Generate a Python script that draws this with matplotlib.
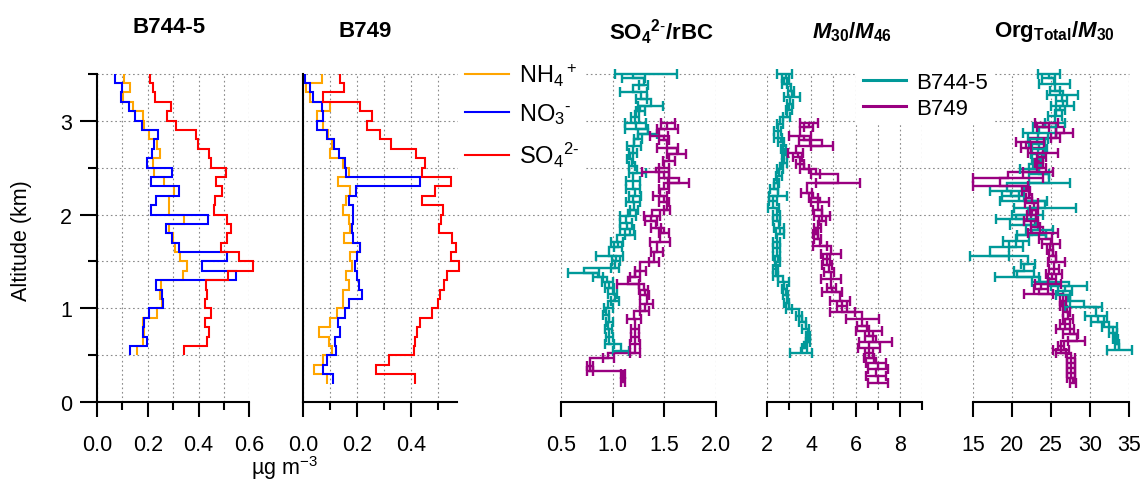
import numpy as np
import matplotlib
matplotlib.use('Agg')
import matplotlib.pyplot as plt
from matplotlib.lines import Line2D

plt.rcParams['font.family'] = ['Liberation Sans', 'DejaVu Sans']
plt.rcParams['mathtext.fontset'] = 'custom'
plt.rcParams['mathtext.rm'] = 'Liberation Sans'
plt.rcParams['mathtext.it'] = 'Liberation Sans:italic:bold'
plt.rcParams['mathtext.bf'] = 'Liberation Sans:bold'
plt.rcParams['mathtext.default'] = 'regular'

# ---------------- data: aerosol species profiles (step bins, km) ----------------
edges_b7445 = [0.5, 0.6, 0.7, 0.8, 0.9, 1.0, 1.1, 1.2, 1.3, 1.4, 1.5, 1.6, 1.7, 1.8,
               1.9, 2.0, 2.1, 2.2, 2.3, 2.4, 2.5, 2.6, 2.7, 2.8, 2.9, 3.0, 3.1, 3.2,
               3.3, 3.4, 3.5]
nh4_b7445 = [0.159, 0.183, 0.186, 0.183, 0.236, 0.255, 0.249, 0.253, 0.338, 0.354,
             0.328, 0.308, 0.299, 0.282, 0.341, 0.282, 0.285, 0.302, 0.262, 0.225,
             0.220, 0.249, 0.236, 0.205, 0.186, 0.183, 0.143, 0.104, 0.130, 0.107]
no3_b7445 = [0.130, 0.196, 0.183, 0.186, 0.203, 0.259, 0.255, 0.233, 0.549, 0.413,
             0.514, 0.325, 0.295, 0.272, 0.439, 0.213, 0.233, 0.325, 0.213, 0.295,
             0.196, 0.216, 0.225, 0.242, 0.176, 0.150, 0.128, 0.093, 0.097, 0.071]
so4_b7445 = [0.341, 0.432, 0.440, 0.425, 0.448, 0.425, 0.432, 0.430, 0.518, 0.613,
             0.558, 0.488, 0.512, 0.528, 0.512, 0.459, 0.466, 0.492, 0.470, 0.509,
             0.449, 0.440, 0.396, 0.390, 0.312, 0.275, 0.292, 0.229, 0.222, 0.210]

edges_b749 = [0.2, 0.3, 0.4, 0.5, 0.6, 0.7, 0.8, 0.9, 1.0, 1.1, 1.2, 1.3, 1.4, 1.5,
              1.6, 1.7, 1.8, 1.9, 2.0, 2.1, 2.2, 2.3, 2.4, 2.5, 2.6, 2.7, 2.8, 2.9,
              3.0, 3.1, 3.2, 3.3, 3.4, 3.5]
nh4_b749 = [0.089, 0.040, 0.072, 0.108, 0.097, 0.060, 0.099, 0.124, 0.149, 0.147,
            0.168, 0.159, 0.180, 0.174, 0.209, 0.152, 0.174, 0.168, 0.149, 0.160,
            0.175, 0.130, 0.168, 0.147, 0.099, 0.106, 0.093, 0.075, 0.052, 0.099,
            0.025, 0.010, 0.068]
no3_b749 = [0.112, 0.075, 0.087, 0.122, 0.118, 0.135, 0.130, 0.155, 0.171, 0.217,
            0.208, 0.198, 0.192, 0.198, 0.211, 0.186, 0.180, 0.184, 0.186, 0.168,
            0.196, 0.435, 0.159, 0.155, 0.134, 0.114, 0.087, 0.052, 0.072, 0.068,
            0.035, 0.025, 0.006]
so4_b749 = [0.414, 0.270, 0.317, 0.410, 0.414, 0.422, 0.435, 0.478, 0.499, 0.507,
            0.522, 0.534, 0.578, 0.547, 0.568, 0.553, 0.503, 0.512, 0.518, 0.441,
            0.491, 0.547, 0.441, 0.453, 0.420, 0.325, 0.286, 0.238, 0.255, 0.209,
            0.072, 0.152, 0.137]

species_labels = [r'NH$_4{}^+$', r'NO$_3{}^{\text{-}}$', r'SO$_4{}^{2\text{-}}$']
flight_labels = ['B744-5', 'B749']

# ---------------- data: ratio profiles (altitude km, value, error) ----------------
# SO4/rBC
r1_alt_a = [3.50, 3.45, 3.38, 3.30, 3.23, 3.16, 3.10, 3.04, 2.98, 2.91, 2.86, 2.80, 2.73,
            2.66, 2.59, 2.52, 2.44, 2.36, 2.27, 2.20, 2.13, 2.05, 1.98, 1.91, 1.85, 1.78,
            1.71, 1.65, 1.56, 1.50, 1.43, 1.38, 1.33, 1.28, 1.22, 1.15, 1.08, 1.00, 0.93,
            0.86, 0.78, 0.70, 0.62, 0.55]
r1_val_a = [1.32, 1.20, 1.30, 1.20, 1.28, 1.37, 1.27, 1.22, 1.22, 1.23, 1.34, 1.25, 1.21,
            1.20, 1.17, 1.19, 1.24, 1.20, 1.20, 1.22, 1.20, 1.21, 1.15, 1.13, 1.14, 1.17,
            1.04, 1.05, 0.97, 1.03, 1.02, 0.72, 0.86, 0.95, 0.97, 1.00, 1.02, 0.96, 0.94,
            0.97, 0.96, 0.97, 0.97, 1.08]
r1_err_a = [0.30, 0.11, 0.04, 0.13, 0.05, 0.12, 0.04, 0.04, 0.10, 0.11, 0.09, 0.04, 0.07,
            0.04, 0.03, 0.03, 0.08, 0.07, 0.07, 0.06, 0.07, 0.04, 0.08, 0.06, 0.07, 0.05,
            0.06, 0.04, 0.13, 0.04, 0.04, 0.15, 0.05, 0.05, 0.04, 0.04, 0.04, 0.04, 0.03,
            0.03, 0.03, 0.03, 0.04, 0.08]
r1_alt_b = [2.98, 2.91, 2.84, 2.79, 2.71, 2.64, 2.57, 2.50, 2.45, 2.39, 2.34, 2.27, 2.20,
            2.13, 2.05, 1.98, 1.93, 1.86, 1.80, 1.71, 1.60, 1.49, 1.40, 1.33, 1.26, 1.20,
            1.14, 1.05, 0.97, 0.89, 0.78, 0.70, 0.62, 0.53, 0.47, 0.39, 0.33, 0.30, 0.22]
r1_val_b = [1.54, 1.53, 1.45, 1.50, 1.53, 1.62, 1.55, 1.50, 1.42, 1.50, 1.64, 1.50, 1.46,
            1.50, 1.53, 1.38, 1.37, 1.42, 1.50, 1.46, 1.43, 1.40, 1.27, 1.22, 1.15, 1.30,
            1.31, 1.33, 1.31, 1.21, 1.22, 1.22, 1.22, 1.22, 0.96, 0.78, 0.78, 1.10, 1.10]
r1_err_b = [0.07, 0.10, 0.09, 0.05, 0.10, 0.09, 0.06, 0.05, 0.13, 0.05, 0.10, 0.05, 0.07,
            0.05, 0.03, 0.08, 0.06, 0.05, 0.05, 0.10, 0.06, 0.05, 0.05, 0.05, 0.11, 0.04,
            0.04, 0.06, 0.04, 0.07, 0.04, 0.04, 0.05, 0.05, 0.05, 0.03, 0.03, 0.02, 0.02]

# M30/M46
r2_alt_a = [3.50, 3.45, 3.39, 3.32, 3.25, 3.18, 3.11, 3.04, 2.96, 2.89, 2.82, 2.77, 2.70,
            2.63, 2.55, 2.48, 2.41, 2.34, 2.27, 2.20, 2.14, 2.07, 2.00, 1.93, 1.86, 1.79,
            1.71, 1.64, 1.56, 1.49, 1.42, 1.35, 1.28, 1.21, 1.14, 1.06, 0.99, 0.92, 0.85,
            0.78, 0.71, 0.64, 0.58, 0.53]
r2_val_a = [2.80, 2.85, 2.80, 3.10, 3.15, 3.05, 3.00, 2.90, 2.60, 2.50, 2.50, 2.65, 2.75,
            2.80, 2.80, 2.60, 2.55, 2.45, 2.35, 2.50, 2.30, 2.30, 2.45, 2.45, 2.55, 2.60,
            2.45, 2.45, 2.45, 2.50, 2.40, 2.40, 2.75, 2.80, 2.85, 2.90, 3.00, 3.45, 3.60,
            3.75, 3.85, 3.85, 3.70, 3.55]
r2_err_a = [0.35, 0.15, 0.12, 0.12, 0.35, 0.15, 0.15, 0.15, 0.15, 0.15, 0.18, 0.15, 0.12,
            0.12, 0.12, 0.15, 0.15, 0.12, 0.18, 0.40, 0.18, 0.25, 0.15, 0.15, 0.22, 0.18,
            0.15, 0.15, 0.15, 0.12, 0.12, 0.12, 0.25, 0.12, 0.12, 0.12, 0.15, 0.15, 0.15,
            0.15, 0.08, 0.08, 0.12, 0.50]
r2_alt_b = [2.98, 2.93, 2.84, 2.79, 2.73, 2.66, 2.61, 2.54, 2.48, 2.43, 2.34, 2.23, 2.18,
            2.13, 2.05, 1.98, 1.93, 1.86, 1.79, 1.74, 1.67, 1.58, 1.53, 1.46, 1.39, 1.31,
            1.22, 1.17, 1.08, 1.03, 0.96, 0.89, 0.81, 0.76, 0.71, 0.64, 0.58, 0.53, 0.47,
            0.42, 0.35, 0.28, 0.21]
r2_val_b = [3.90, 3.90, 3.50, 3.70, 4.50, 3.30, 3.40, 3.50, 3.70, 4.20, 5.20, 3.80, 4.10,
            4.40, 4.30, 4.50, 4.50, 4.30, 4.20, 4.30, 4.40, 4.90, 4.70, 4.70, 4.80, 4.90,
            4.90, 4.95, 5.30, 5.40, 5.40, 6.30, 6.30, 6.60, 6.60, 6.90, 6.60, 6.60, 6.60,
            6.90, 7.00, 6.90, 7.00]
r2_err_b = [0.40, 0.20, 0.50, 0.25, 0.50, 0.35, 0.20, 0.20, 0.22, 0.22, 1.00, 0.25, 0.20,
            0.40, 0.20, 0.35, 0.15, 0.15, 0.12, 0.15, 0.30, 0.45, 0.15, 0.22, 0.22, 0.45,
            0.20, 0.45, 0.45, 0.22, 0.55, 0.75, 0.22, 0.60, 0.20, 0.75, 0.50, 0.20, 0.22,
            0.45, 0.45, 0.45, 0.45]

# OrgTotal/M30
r3_alt_a = [3.50, 3.45, 3.39, 3.32, 3.27, 3.21, 3.16, 3.11, 3.05, 2.98, 2.93, 2.87, 2.80,
            2.75, 2.70, 2.64, 2.59, 2.54, 2.48, 2.43, 2.34, 2.25, 2.20, 2.14, 2.07, 2.00,
            1.95, 1.89, 1.84, 1.78, 1.72, 1.65, 1.56, 1.47, 1.40, 1.33, 1.28, 1.24, 1.19,
            1.14, 1.08, 1.01, 0.92, 0.85, 0.80, 0.74, 0.67, 0.62, 0.56]
r3_val_a = [24.7, 24.7, 25.4, 25.5, 26.5, 26.4, 26.5, 26.2, 25.5, 25.5, 24.2, 23.5, 23.3,
            23.2, 23.5, 23.3, 23.3, 23.2, 22.2, 23.5, 24.8, 19.3, 19.8, 21.5, 24.2, 22.0,
            20.5, 21.5, 23.5, 22.5, 20.5, 20.5, 17.1, 22.0, 21.5, 20.6, 23.6, 27.3, 26.8,
            26.5, 27.2, 29.2, 30.8, 31.0, 32.5, 33.0, 33.3, 33.5, 33.8]
r3_err_a = [1.4, 0.8, 2.0, 0.6, 2.0, 0.7, 1.5, 0.6, 0.9, 1.3, 1.5, 2.1, 1.3,
            1.0, 1.0, 0.9, 0.7, 0.5, 1.2, 1.3, 2.6, 2.2, 1.1, 3.0, 4.0, 2.0,
            2.6, 1.8, 1.7, 1.9, 1.7, 0.9, 2.5, 0.9, 1.3, 2.8, 1.1, 2.3, 0.9,
            0.9, 0.3, 2.4, 1.4, 0.8, 1.0, 0.5, 0.3, 0.3, 1.6]
r3_alt_b = [2.98, 2.93, 2.87, 2.82, 2.77, 2.71, 2.66, 2.61, 2.55, 2.50, 2.45, 2.39, 2.30,
            2.25, 2.18, 2.12, 2.05, 2.00, 1.93, 1.87, 1.80, 1.74, 1.69, 1.62, 1.56, 1.49,
            1.42, 1.37, 1.31, 1.26, 1.21, 1.15, 1.08, 1.03, 0.96, 0.89, 0.83, 0.78, 0.73,
            0.65, 0.60, 0.56, 0.52, 0.47, 0.42, 0.37, 0.31, 0.26, 0.21]
r3_val_b = [24.4, 24.0, 26.7, 25.6, 22.3, 21.8, 24.0, 23.8, 23.5, 23.8, 23.3, 19.5, 18.5,
            21.8, 22.2, 22.5, 22.8, 22.5, 22.4, 23.0, 24.0, 24.3, 25.0, 24.9, 25.2, 25.7,
            25.4, 25.4, 25.1, 24.6, 23.7, 23.4, 26.5, 26.4, 27.0, 27.2, 26.8, 26.8, 27.5,
            28.3, 26.3, 26.3, 26.3, 27.6, 27.6, 27.6, 27.6, 27.6, 27.8]
r3_err_b = [1.5, 0.8, 1.1, 0.6, 1.8, 0.6, 1.9, 0.6, 0.5, 0.6, 1.9, 4.5, 3.5,
            0.5, 0.4, 0.8, 0.5, 0.6, 0.9, 0.6, 1.9, 0.8, 1.1, 0.4, 0.4, 1.1,
            0.6, 1.0, 0.5, 1.7, 0.9, 1.9, 0.4, 0.2, 0.5, 0.6, 0.6, 1.1, 1.0,
            1.1, 0.4, 1.0, 0.6, 0.5, 0.5, 0.5, 0.5, 0.5, 0.4]

# ---------------- styling ----------------
C_NH4, C_NO3, C_SO4 = '#FFA500', '#0000FF', '#FF0000'
C_A, C_B = '#009999', '#990080'
GRID = dict(color='#8a8a8a', linestyle=(0, (1.5, 2.5)), linewidth=0.8)
FS_TICK = 15.5
LW = 1.5

W, H = 1142, 481
fig = plt.figure(figsize=(W / 100, H / 100), dpi=100)
Y0, Y1 = 403.3, 74.7


def add_ax(x0, x1, zorder=1):
    return fig.add_axes([x0 / W, (H - Y0) / H, (x1 - x0) / W, (Y0 - Y1) / H], zorder=zorder)


# background horizontal grid spanning all panels
axbg = add_ax(97.0, 1128.7, zorder=0)
axbg.set_ylim(0, 3.5)
axbg.set_xlim(0, 1)
axbg.set_xticks([])
axbg.set_yticks([0.5, 1.0, 1.5, 2.0, 2.5, 3.0, 3.5])
axbg.tick_params(axis='y', length=0, labelleft=False)
axbg.grid(axis='y', **GRID)
for ln in axbg.get_ygridlines():
    ln.set_clip_on(False)
for s in axbg.spines.values():
    s.set_visible(False)
axbg.patch.set_alpha(0)


def setup(ax, xlim, major, labels, minor, left_spine=False, grid_minor=False):
    ax.set_xlim(*xlim)
    ax.set_ylim(0, 3.5)
    ax.patch.set_alpha(0)
    ax.set_xticks(major)
    ax.set_xticklabels(labels)
    ax.set_xticks(minor, minor=True)
    ax.tick_params(axis='x', which='major', direction='out', length=10.8, width=LW,
                   pad=12, labelsize=FS_TICK)
    ax.tick_params(axis='x', which='minor', direction='out', length=5.8, width=LW)
    ax.spines['top'].set_visible(False)
    ax.spines['right'].set_visible(False)
    ax.spines['bottom'].set_linewidth(LW)
    ax.spines['left'].set_linewidth(LW)
    ax.spines['left'].set_visible(left_spine)
    ax.tick_params(axis='y', which='both', left=False, labelleft=False)
    ax.grid(axis='x', which='both' if grid_minor else 'major', **GRID)
    ax.set_axisbelow(True)


ax1 = add_ax(97.0, 249.3)
setup(ax1, (0, 0.6), [0, 0.2, 0.4, 0.6], ['0.0', '0.2', '0.4', '0.6'],
      [0.1, 0.3, 0.5], left_spine=True, grid_minor=True)
ax1.set_yticks([0, 1, 2, 3])
ax1.set_yticklabels(['0', '1', '2', '3'])
ax1.set_yticks([0.5, 1.5, 2.5, 3.5], minor=True)
ax1.tick_params(axis='y', which='major', left=True, labelleft=True, direction='out',
                length=12.2, width=LW, pad=5.8, labelsize=FS_TICK)
ax1.tick_params(axis='y', which='minor', left=True, direction='out', length=6.5, width=LW)

ax2 = add_ax(303.3, 456.7)
setup(ax2, (0, 0.57), [0, 0.2, 0.4], ['0.0', '0.2', '0.4'], [0.1, 0.3, 0.5],
      left_spine=True, grid_minor=True)

ax3 = add_ax(561.0, 715.7)
setup(ax3, (0.5, 2.0), [0.5, 1.0, 1.5, 2.0], ['0.5', '1.0', '1.5', '2.0'], [])

ax4 = add_ax(766.7, 922.3)
setup(ax4, (2, 9), [2, 4, 6, 8], ['2', '4', '6', '8'], [3, 5, 7, 9], grid_minor=True)

ax5 = add_ax(973.3, 1128.7)
setup(ax5, (15, 35), [15, 20, 25, 30, 35], ['15', '20', '25', '30', '35'], [])

# species step profiles
for ax, edges, series in [
        (ax1, edges_b7445, [(nh4_b7445, C_NH4), (no3_b7445, C_NO3), (so4_b7445, C_SO4)]),
        (ax2, edges_b749, [(nh4_b749, C_NH4), (no3_b749, C_NO3), (so4_b749, C_SO4)])]:
    for vals, col in series:
        ax.stairs(vals, edges, orientation='horizontal', baseline=None,
                  color=col, lw=LW, clip_on=False)


def ratio(ax, alt, val, err, col):
    alt = np.asarray(alt)
    val = np.asarray(val)
    err = np.asarray(err)
    o = np.argsort(alt)
    alt, val, err = alt[o], val[o], err[o]
    ax.stairs(val[:-1], alt, orientation='horizontal', baseline=None,
              color=col, lw=1.7, clip_on=False)
    ax.errorbar(val, alt, xerr=err, fmt='none', ecolor=col, elinewidth=1.7,
                capsize=3.4, capthick=1.7, clip_on=False)


ratio(ax3, r1_alt_a, r1_val_a, r1_err_a, C_A)
ratio(ax3, r1_alt_b, r1_val_b, r1_err_b, C_B)
ratio(ax4, r2_alt_a, r2_val_a, r2_err_a, C_A)
ratio(ax4, r2_alt_b, r2_val_b, r2_err_b, C_B)
ratio(ax5, r3_alt_a, r3_val_a, r3_err_a, C_A)
ratio(ax5, r3_alt_b, r3_val_b, r3_err_b, C_B)

# legends
h1 = [Line2D([], [], color=c, lw=LW) for c in (C_NH4, C_NO3, C_SO4)]
leg1 = fig.legend(h1, species_labels, loc='upper left',
                  bbox_to_anchor=(458 / W, 1 - 55 / H), frameon=True, facecolor='white',
                  edgecolor='none', framealpha=1, fontsize=17, handlelength=1.85,
                  handletextpad=0.42, labelspacing=0.57, borderpad=0.3, borderaxespad=0)
leg1.get_frame().set_boxstyle('square', pad=0)
h2 = [Line2D([], [], color=c, lw=2.2) for c in (C_A, C_B)]
leg2 = fig.legend(h2, flight_labels, loc='upper left',
                  bbox_to_anchor=(856 / W, 1 - 66 / H), frameon=True, facecolor='white',
                  edgecolor='none', framealpha=1, fontsize=16, handlelength=1.95,
                  handletextpad=0.45, labelspacing=0.23, borderpad=0.3, borderaxespad=0)
leg2.get_frame().set_boxstyle('square', pad=0)

# titles and labels
fig.text(169 / W, 1 - 32.7 / H, 'B744-5', ha='center', va='baseline', fontsize=16,
         fontweight='bold')
fig.text(365 / W, 1 - 36.7 / H, 'B749', ha='center', va='baseline', fontsize=16,
         fontweight='bold')
fig.text(661.7 / W, 1 - 40 / H, r'SO$_4{}^{2\text{-}}$/rBC', ha='center', va='baseline',
         fontsize=16, fontweight='bold')
fig.text(852 / W, 1 - 38 / H, r'$\mathit{M}_{30}$/$\mathit{M}_{46}$', ha='center',
         va='baseline', fontsize=16, fontweight='bold')
fig.text(1054 / W, 1 - 37.3 / H, r'Org$_{Total}$/$\mathit{M}_{30}$', ha='center',
         va='baseline', fontsize=16, fontweight='bold')
fig.text(22 / W, 0.499, 'Altitude (km)', rotation=90, ha='center', va='center',
         fontsize=15.5)
fig.text(284 / W, 5.5 / H, r'µg m$^{-3}$', ha='center', va='baseline', fontsize=15.5)

fig.savefig('out.png', dpi=100)
